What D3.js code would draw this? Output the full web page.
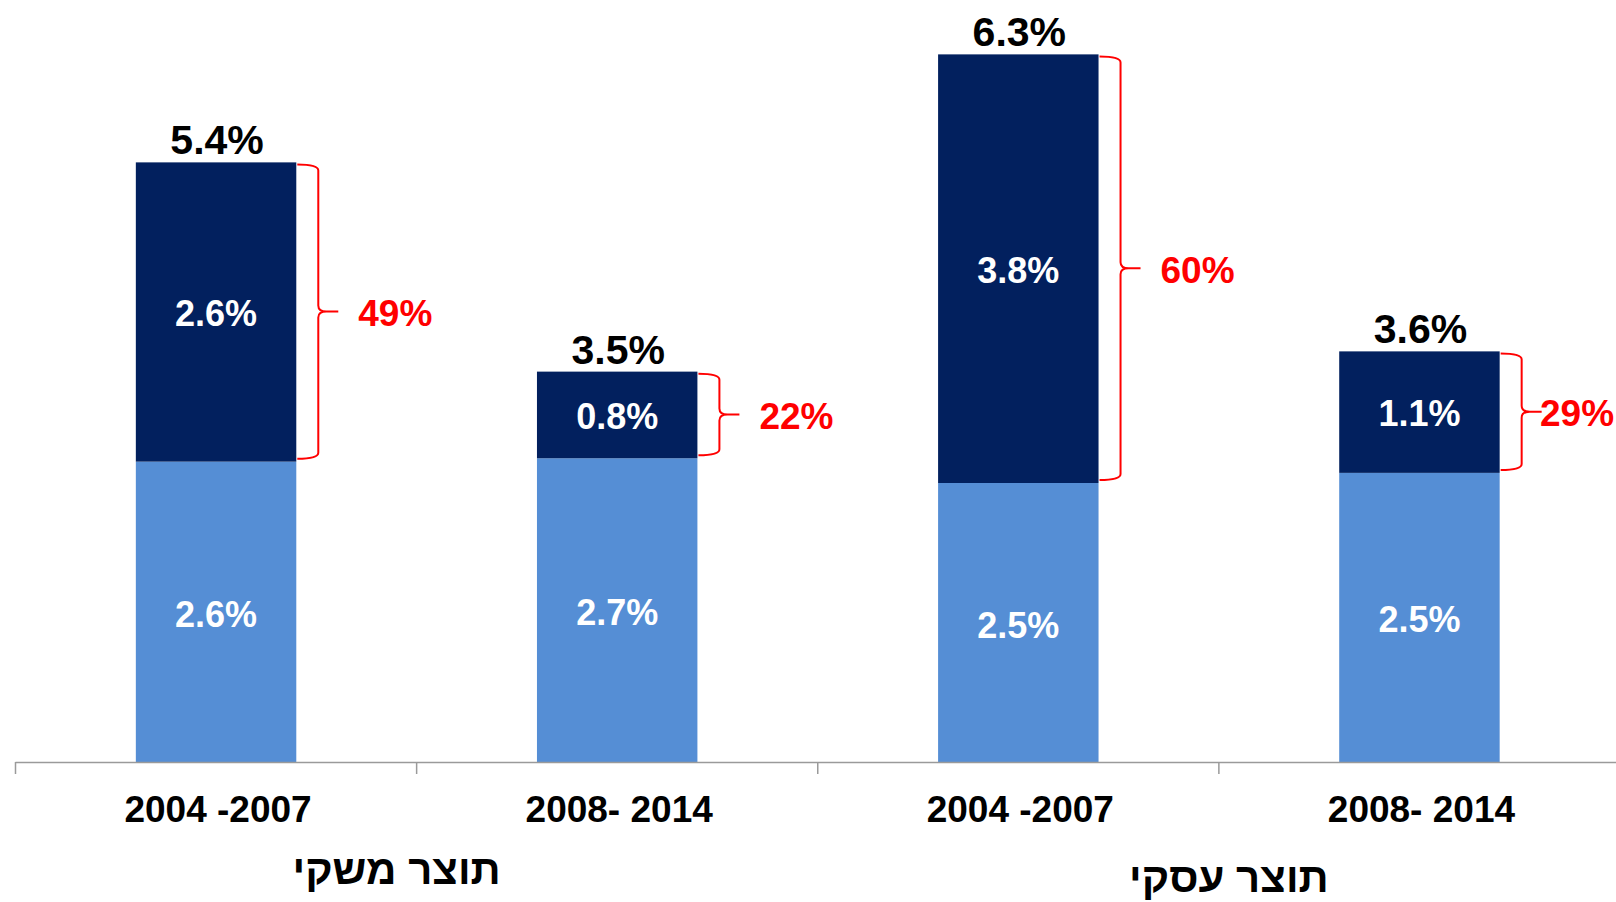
<!DOCTYPE html>
<html>
<head>
  <meta charset="utf-8">
  <title>תוצר משקי ועסקי</title>
  <script src="https://cdn.jsdelivr.net/npm/d3@7"></script>
  <style>
    body { margin: 0; background: #fff; }
    text { font-family: "Liberation Sans", Arial, sans-serif; font-weight: bold; }
  </style>
</head>
<body>
<script>
  // data
  const periods = ["2004 -2007", "2008- 2014", "2004 -2007", "2008- 2014"];
  const groups = ["תוצר משקי", "תוצר עסקי"];
  const lowerValues = [2.67, 2.70, 2.48, 2.57];   // light blue part
  const upperValues = [2.66, 0.77, 3.81, 1.08];   // dark part
  const lowerLabels = ["2.6%", "2.7%", "2.5%", "2.5%"];
  const upperLabels = ["2.6%", "0.8%", "3.8%", "1.1%"];
  const totalLabels = ["5.4%", "3.5%", "6.3%", "3.6%"];
  const shareLabels = ["49%", "22%", "60%", "29%"];

  const W = 1616, H = 902;
  const baseY = 762;

  const svg = d3.select("body").append("svg")
    .attr("width", W)
    .attr("height", H);

  const idx = d3.range(periods.length);

  const x = d3.scaleBand()
    .domain(idx)
    .range([15.5, 1620])
    .padding(0);

  const y = d3.scaleLinear()
    .domain([0, 6.8])
    .range([baseY, baseY - 6.8 * 112.5]);

  const bw = x.bandwidth() * 0.4;
  const barX = i => x(i) + (x.bandwidth() - bw) / 2;
  const cx = i => x(i) + x.bandwidth() / 2;

  // lower segments
  svg.selectAll("rect.lower")
    .data(idx)
    .enter().append("rect")
    .attr("class", "lower")
    .attr("x", barX)
    .attr("width", bw)
    .attr("y", i => y(lowerValues[i]))
    .attr("height", i => y(0) - y(lowerValues[i]))
    .attr("fill", "#558ed5");

  // upper segments
  svg.selectAll("rect.upper")
    .data(idx)
    .enter().append("rect")
    .attr("class", "upper")
    .attr("x", barX)
    .attr("width", bw)
    .attr("y", i => y(lowerValues[i] + upperValues[i]))
    .attr("height", i => y(lowerValues[i]) - y(lowerValues[i] + upperValues[i]))
    .attr("fill", "#02205e");

  // axis line + ticks at band edges
  const axisG = svg.append("g").attr("stroke", "#9a9a9a").attr("stroke-width", 1.5);
  axisG.append("line")
    .attr("x1", x.range()[0]).attr("x2", W)
    .attr("y1", baseY + 0.5).attr("y2", baseY + 0.5);
  axisG.selectAll("line.tick")
    .data(idx)
    .enter().append("line")
    .attr("class", "tick")
    .attr("x1", i => x(i)).attr("x2", i => x(i))
    .attr("y1", baseY).attr("y2", baseY + 12);

  // white labels inside segments
  svg.selectAll("text.lowlab")
    .data(idx)
    .enter().append("text")
    .attr("x", cx)
    .attr("y", i => (y(0) + y(lowerValues[i])) / 2 + 15)
    .attr("text-anchor", "middle")
    .attr("fill", "#fff")
    .attr("font-size", 36)
    .text(i => lowerLabels[i]);

  svg.selectAll("text.uplab")
    .data(idx)
    .enter().append("text")
    .attr("x", cx)
    .attr("y", i => (y(lowerValues[i]) + y(lowerValues[i] + upperValues[i])) / 2 + 14)
    .attr("text-anchor", "middle")
    .attr("fill", "#fff")
    .attr("font-size", 36)
    .text(i => upperLabels[i]);

  // totals above bars
  svg.selectAll("text.total")
    .data(idx)
    .enter().append("text")
    .attr("x", i => cx(i) + 1)
    .attr("y", i => y(lowerValues[i] + upperValues[i]) - 8)
    .attr("text-anchor", "middle")
    .attr("fill", "#000")
    .attr("font-size", 41)
    .text(i => totalLabels[i]);

  // red braces next to the dark part
  function brace(x0, top, bot) {
    const xv = x0 + 21, tip = 20, r = 6;
    const mid = (top + bot) / 2;
    return `M${x0},${top} Q${xv},${top} ${xv},${top + r}` +
      ` L${xv},${mid - r} Q${xv},${mid} ${xv + tip * 0.4},${mid} L${xv + tip},${mid}` +
      ` M${xv + tip * 0.4},${mid} Q${xv},${mid} ${xv},${mid + r}` +
      ` L${xv},${bot - r} Q${xv},${bot} ${x0},${bot}`;
  }

  svg.selectAll("path.brace")
    .data(idx)
    .enter().append("path")
    .attr("d", i => brace(barX(i) + bw + 1,
      y(lowerValues[i] + upperValues[i]) + 2,
      y(lowerValues[i]) - 3))
    .attr("fill", "none")
    .attr("stroke", "#ff0000")
    .attr("stroke-width", 2);

  svg.selectAll("text.share")
    .data(idx)
    .enter().append("text")
    .attr("x", i => Math.min(barX(i) + bw + 62, W - 76))
    .attr("y", i => (y(lowerValues[i]) + y(lowerValues[i] + upperValues[i])) / 2 + 14)
    .attr("fill", "#ff0000")
    .attr("font-size", 37)
    .text(i => shareLabels[i]);

  // period labels
  svg.selectAll("text.period")
    .data(idx)
    .enter().append("text")
    .attr("x", i => cx(i) + 2)
    .attr("y", 822)
    .attr("text-anchor", "middle")
    .attr("fill", "#000")
    .attr("font-size", 37)
    .text(i => periods[i]);

  // group labels
  const groupDx = [-20, 10];
  const groupY = [884, 892];
  svg.selectAll("text.group")
    .data(groups)
    .enter().append("text")
    .attr("x", (d, g) => (cx(g * 2) + cx(g * 2 + 1)) / 2 + groupDx[g])
    .attr("y", (d, g) => groupY[g])
    .attr("text-anchor", "middle")
    .attr("fill", "#000")
    .attr("font-size", 42)
    .text(d => d);
</script>
</body>
</html>
